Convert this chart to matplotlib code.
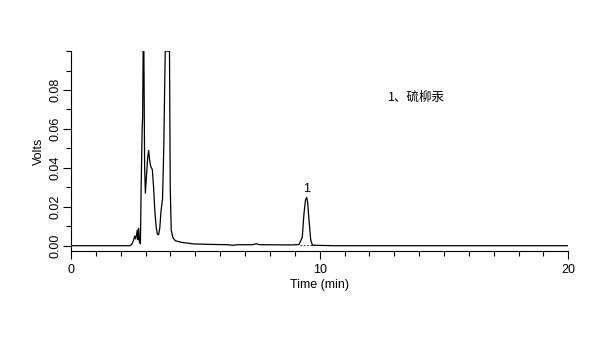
import matplotlib
matplotlib.use("Agg")
import matplotlib.pyplot as plt
from matplotlib.ticker import MultipleLocator

plt.rcParams['font.family'] = ['Liberation Sans', 'Noto Sans CJK SC', 'DejaVu Sans']

# 色谱图数据 (min, V)，超出量程的部分按仪器截顶为 0.1
time_min = [0.0, 2.38, 2.45, 2.52, 2.56, 2.60, 2.64, 2.67, 2.69, 2.72, 2.75,
            2.79, 2.82, 2.86, 2.88, 2.90, 2.93, 2.96, 2.99, 3.03, 3.08, 3.12,
            3.16, 3.20, 3.27, 3.32, 3.37, 3.42, 3.47, 3.52, 3.57, 3.62, 3.68,
            3.73, 3.77, 3.79, 3.96, 3.99, 4.03, 4.10, 4.20, 4.45, 4.95, 5.50,
            6.30, 6.50, 6.70, 7.30, 7.45, 7.60, 8.90, 9.17, 9.30, 9.37, 9.43,
            9.48, 9.52, 9.55, 9.64, 9.71, 9.85, 10.5, 20.0]
volts = [0.0, 0.0, 0.0008, 0.003, 0.005, 0.0035, 0.006, 0.008, 0.003, 0.009,
         0.002, 0.001, 0.03, 0.06, 0.066, 0.1, 0.1, 0.04, 0.027, 0.035, 0.045,
         0.049, 0.044, 0.041, 0.039, 0.03, 0.018, 0.010, 0.006, 0.0056, 0.009,
         0.018, 0.024, 0.05, 0.085, 0.1, 0.1, 0.03, 0.008, 0.004, 0.0025,
         0.0017, 0.0009, 0.0007, 0.0005, 0.0002, 0.0005, 0.0005, 0.001, 0.0005,
         0.0004, 0.0006, 0.0043, 0.0166, 0.0235, 0.0248, 0.022, 0.0166, 0.0029,
         0.0003, 0.0002, 0.0, 0.0]

peak_time = 9.48
peak_height = 0.0248
peak_label = "1"
legend_text = "1、硫柳汞"

fig = plt.figure(figsize=(6.02, 3.5), dpi=100)
ax = fig.add_axes([0.118, 0.283, 0.826, 0.571])

ax.plot(time_min, volts, color='black', lw=0.9)
# 积分基线
ax.plot([9.2, 9.9], [0.0005, 0.0005], color='black', lw=0.6, ls=(0, (2, 2)))

ax.annotate(peak_label, (peak_time, peak_height), xytext=(0, 2),
            textcoords='offset points', ha='center', va='bottom', fontsize=9)
ax.text(12.75, 0.0764, legend_text, fontsize=9, ha='left', va='center',
        family=['Noto Sans CJK SC', 'DejaVu Sans'])

ax.set_xlim(0, 20)
ax.set_ylim(-0.0027, 0.1)
ax.xaxis.set_major_locator(MultipleLocator(10))
ax.xaxis.set_minor_locator(MultipleLocator(1))
ax.set_yticks([0.0, 0.02, 0.04, 0.06, 0.08])
ax.yaxis.set_minor_locator(MultipleLocator(0.01))
ax.set_yticklabels(['0.00', '0.02', '0.04', '0.06', '0.08'], rotation=90, va='center')

ax.tick_params(axis='both', which='major', labelsize=9, width=0.8, direction='out')
ax.tick_params(axis='x', which='major', length=6)
ax.tick_params(axis='x', which='minor', length=3.5, width=0.8)
ax.tick_params(axis='y', which='major', length=6, pad=1)
ax.tick_params(axis='y', which='minor', length=3.5, width=0.8)

for s in ['top', 'right']:
    ax.spines[s].set_visible(False)
for s in ['left', 'bottom']:
    ax.spines[s].set_linewidth(0.8)

ax.set_xlabel('Time (min)', fontsize=9, labelpad=2)
ax.set_ylabel('Volts', fontsize=9, labelpad=3)

fig.savefig('out.png', dpi=100)
